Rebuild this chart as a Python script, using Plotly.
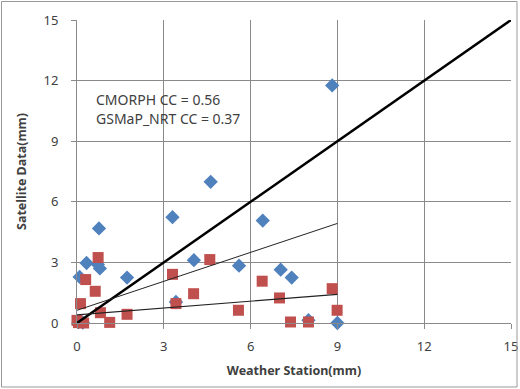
import plotly.graph_objects as go

# CMORPH (blue diamonds)
cmorph_x = [0.09, 0.33, 0.76, 0.79, 0.72, 1.73, 3.30, 3.42, 4.04, 4.62, 5.60, 6.42, 7.04, 7.42, 8.00, 8.82, 9.00, 0.05, 0.20]
cmorph_y = [2.28, 2.97, 4.68, 2.70, 2.90, 2.25, 5.24, 1.04, 3.11, 6.99, 2.84, 5.07, 2.64, 2.25, 0.14, 11.76, 0.00, 0.05, 0.02]

# GSMaP_NRT (red squares)
gsmap_x = [0.00, 0.23, 0.12, 0.30, 0.63, 0.73, 0.81, 1.13, 1.73, 3.30, 3.42, 4.03, 4.59, 5.58, 6.40, 7.00, 7.38, 8.00, 8.82, 8.99, 0.05]
gsmap_y = [0.13, 0.00, 0.96, 2.15, 1.57, 3.24, 0.51, 0.03, 0.43, 2.41, 0.96, 1.45, 3.14, 0.63, 2.07, 1.24, 0.05, 0.05, 1.70, 0.63, 0.02]

# Lines: 1:1 line and linear trendlines (end points)
one_x = [0, 15]
one_y = [0, 15]
cm_trend_x = [0, 9]
cm_trend_y = [0.63, 4.93]
gs_trend_x = [0, 9]
gs_trend_y = [0.40, 1.42]

ticks = [0, 3, 6, 9, 12, 15]

fig = go.Figure()
fig.add_trace(go.Scatter(x=cmorph_x, y=cmorph_y, mode="markers", cliponaxis=False,
                         marker=dict(symbol="diamond", size=11, color="#4F81BD"), name="CMORPH"))
fig.add_trace(go.Scatter(x=gsmap_x, y=gsmap_y, mode="markers", cliponaxis=False,
                         marker=dict(symbol="square", size=11, color="#C0504D"), name="GSMaP_NRT"))
fig.add_trace(go.Scatter(x=one_x, y=one_y, mode="lines", line=dict(color="black", width=2.5), name="1:1"))
fig.add_trace(go.Scatter(x=cm_trend_x, y=cm_trend_y, mode="lines", line=dict(color="#222222", width=1), name="CMORPH trend"))
fig.add_trace(go.Scatter(x=gs_trend_x, y=gs_trend_y, mode="lines", line=dict(color="#222222", width=1.2), name="GSMaP trend"))

font_family = "Noto Sans"
L, R, T, B = 77, 9, 20, 66
W, H = 520, 389
pw, ph = W - L - R, H - T - B
fig.update_layout(
    width=W, height=H,
    margin=dict(l=L, r=R, t=T, b=B, autoexpand=False),
    paper_bgcolor="white", plot_bgcolor="white",
    showlegend=False,
    font=dict(family=font_family, size=13, color="#404040"),
    xaxis=dict(range=[0, 15], tickvals=ticks, showgrid=True, gridcolor="#8a8a8a", gridwidth=1,
               showline=True, linecolor="#8a8a8a", ticks="outside", ticklen=5, tickcolor="#8a8a8a",
               zeroline=False, automargin=False, ticklabelstandoff=6,
               title=dict(text="<b>Weather Station(mm)</b>", font=dict(size=12.5, color="#404040"), standoff=12)),
    yaxis=dict(range=[0, 15], tickvals=ticks, showgrid=True, gridcolor="#8a8a8a", gridwidth=1,
               showline=True, linecolor="#8a8a8a", ticks="outside", ticklen=5, tickcolor="#8a8a8a",
               zeroline=False, automargin=False, ticklabelstandoff=10,
               title=dict(text="<b>Satellite Data(mm)</b>", font=dict(size=12.5, color="#404040"), standoff=14)),
    annotations=[
        dict(x=(94 - L) / pw, y=(H - B - 100) / ph, xref="paper", yref="paper", xanchor="left", yanchor="middle",
             text="CMORPH CC = 0.56", showarrow=False, font=dict(size=14, color="#404040")),
        dict(x=(94 - L) / pw, y=(H - B - 118) / ph, xref="paper", yref="paper", xanchor="left", yanchor="middle",
             text="GSMaP_NRT CC = 0.37", showarrow=False, font=dict(size=14, color="#404040")),
    ],
    shapes=[dict(type="rect", xref="paper", yref="paper",
                 x0=(1.5 - L) / pw, x1=(517 - L) / pw, y0=(H - B - 387) / ph, y1=(H - B - 1.5) / ph,
                 line=dict(color="#9a9a9a", width=1))],
)

fig.write_html("out.html", config={"displayModeBar": False},
               post_script="document.body.style.margin='0px';document.body.style.overflow='hidden';")
